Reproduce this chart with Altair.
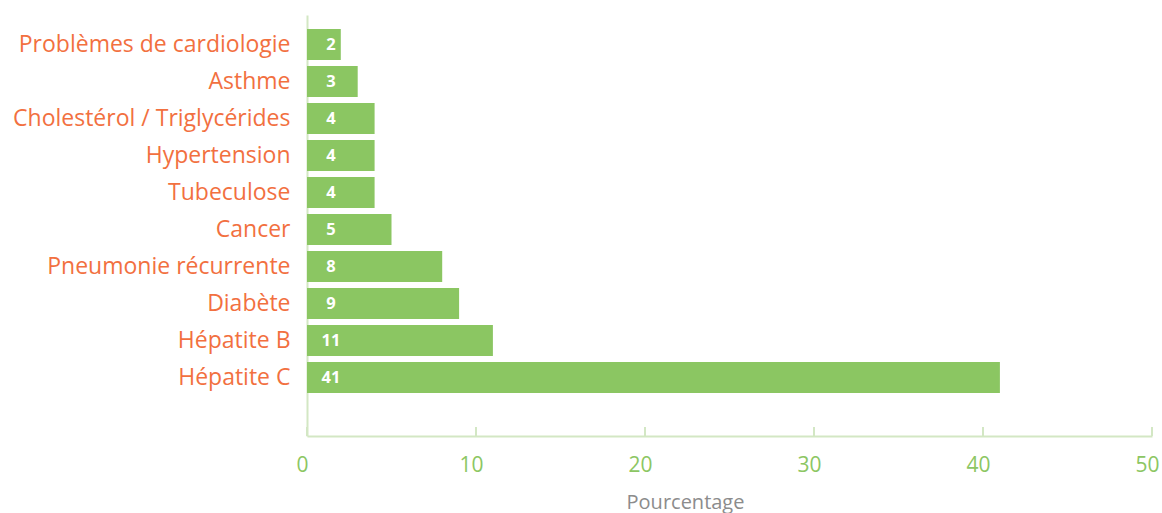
import altair as alt
import pandas as pd

categories = ["Problèmes de cardiologie", "Asthme", "Cholestérol / Triglycérides",
              "Hypertension", "Tubeculose", "Cancer", "Pneumonie récurrente",
              "Diabète", "Hépatite B", "Hépatite C"]
values = [2, 3, 4, 4, 4, 5, 8, 9, 11, 41]
tick_values = [0, 10, 20, 30, 40, 50]

df = pd.DataFrame({"cat": categories, "val": values})
ticks = pd.DataFrame({"t": tick_values})

GREEN = "#8BC662"
LINE = "#D3E7C4"
ORANGE = "#F2703F"
FONT = "Open Sans"

x_scale = alt.Scale(domain=[0, 50], nice=False)
y_scale = alt.Scale(paddingInner=0.162, paddingOuter=0.77, align=0.246)

bars = alt.Chart(df).mark_bar(color=GREEN).encode(
    x=alt.X("val:Q", scale=x_scale,
            axis=alt.Axis(values=tick_values, title="Pourcentage", grid=False,
                          ticks=False, domainColor=LINE, domainWidth=2,
                          labelColor="#8CC663", labelFont=FONT, labelFontSize=21,
                          labelPadding=18, labelFlush=False, labelOffset=-5,
                          titleFont=FONT, titleFontSize=20,
                          titleFontWeight="normal", titleColor="#8C8C8C",
                          titleX=378, titleY=72, titleBaseline="alphabetic")),
    y=alt.Y("cat:N", sort=categories, scale=y_scale,
            axis=alt.Axis(title=None, ticks=False, domainColor=LINE, domainWidth=2,
                          labelColor=ORANGE, labelFont=FONT, labelFontSize=23,
                          labelLimit=400, labelPadding=17)),
)

labels = alt.Chart(df).mark_text(color="white", font=FONT, fontWeight="bold",
                                 fontSize=16.5, align="center", dx=24).encode(
    x=alt.datum(0, scale=x_scale),
    y=alt.Y("cat:N", sort=categories, scale=y_scale),
    text="val:Q",
)

tick_marks = alt.Chart(ticks).mark_rule(color=LINE, strokeWidth=2).encode(
    x=alt.X("t:Q", scale=x_scale),
    y=alt.value(412),
    y2=alt.value(421),
)

chart = alt.layer(bars, labels, tick_marks).properties(
    width=845, height=421,
    autosize=alt.AutoSizeParams(type="none"),
    padding={"left": 307, "top": 15, "right": 10, "bottom": 77},
).configure_view(stroke=None)

chart.save("out.html", embed_options={"renderer": "svg", "actions": False})
